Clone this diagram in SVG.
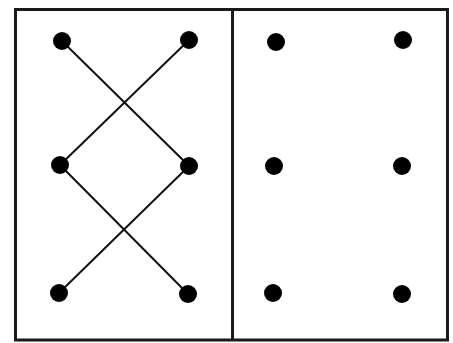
<svg xmlns="http://www.w3.org/2000/svg" width="453" height="343" viewBox="0 0 453 343">
<style>
.frame{fill:none;stroke:#1a1a1a;stroke-width:3}
.dot{fill:#000}
.conn line{stroke:#111;stroke-width:2;stroke-linecap:round}
</style>
<rect width="453" height="343" fill="#fff"/>
<g id="frame">
<rect class="frame" x="15.5" y="9.5" width="432" height="330.5"/>
<line class="frame" x1="232.5" y1="9.5" x2="232.5" y2="340"/>
</g>
<g id="connectors" class="conn">
<line x1="62" y1="41" x2="189" y2="166"/>
<line x1="189" y1="40" x2="60" y2="165"/>
<line x1="60" y1="165" x2="188" y2="294"/>
<line x1="189" y1="166" x2="59" y2="293"/>
</g>
<g id="n1"><circle class="dot" cx="62" cy="41" r="9"/></g>
<g id="n2"><circle class="dot" cx="189" cy="40" r="9"/></g>
<g id="n3"><circle class="dot" cx="276" cy="42" r="9"/></g>
<g id="n4"><circle class="dot" cx="403" cy="40" r="9"/></g>
<g id="n5"><circle class="dot" cx="60" cy="165" r="9"/></g>
<g id="n6"><circle class="dot" cx="189" cy="166" r="9"/></g>
<g id="n7"><circle class="dot" cx="274" cy="166" r="9"/></g>
<g id="n8"><circle class="dot" cx="402" cy="166" r="9"/></g>
<g id="n9"><circle class="dot" cx="59" cy="293" r="9"/></g>
<g id="n10"><circle class="dot" cx="188" cy="294" r="9"/></g>
<g id="n11"><circle class="dot" cx="273" cy="293" r="9"/></g>
<g id="n12"><circle class="dot" cx="402" cy="294" r="9"/></g>
</svg>
